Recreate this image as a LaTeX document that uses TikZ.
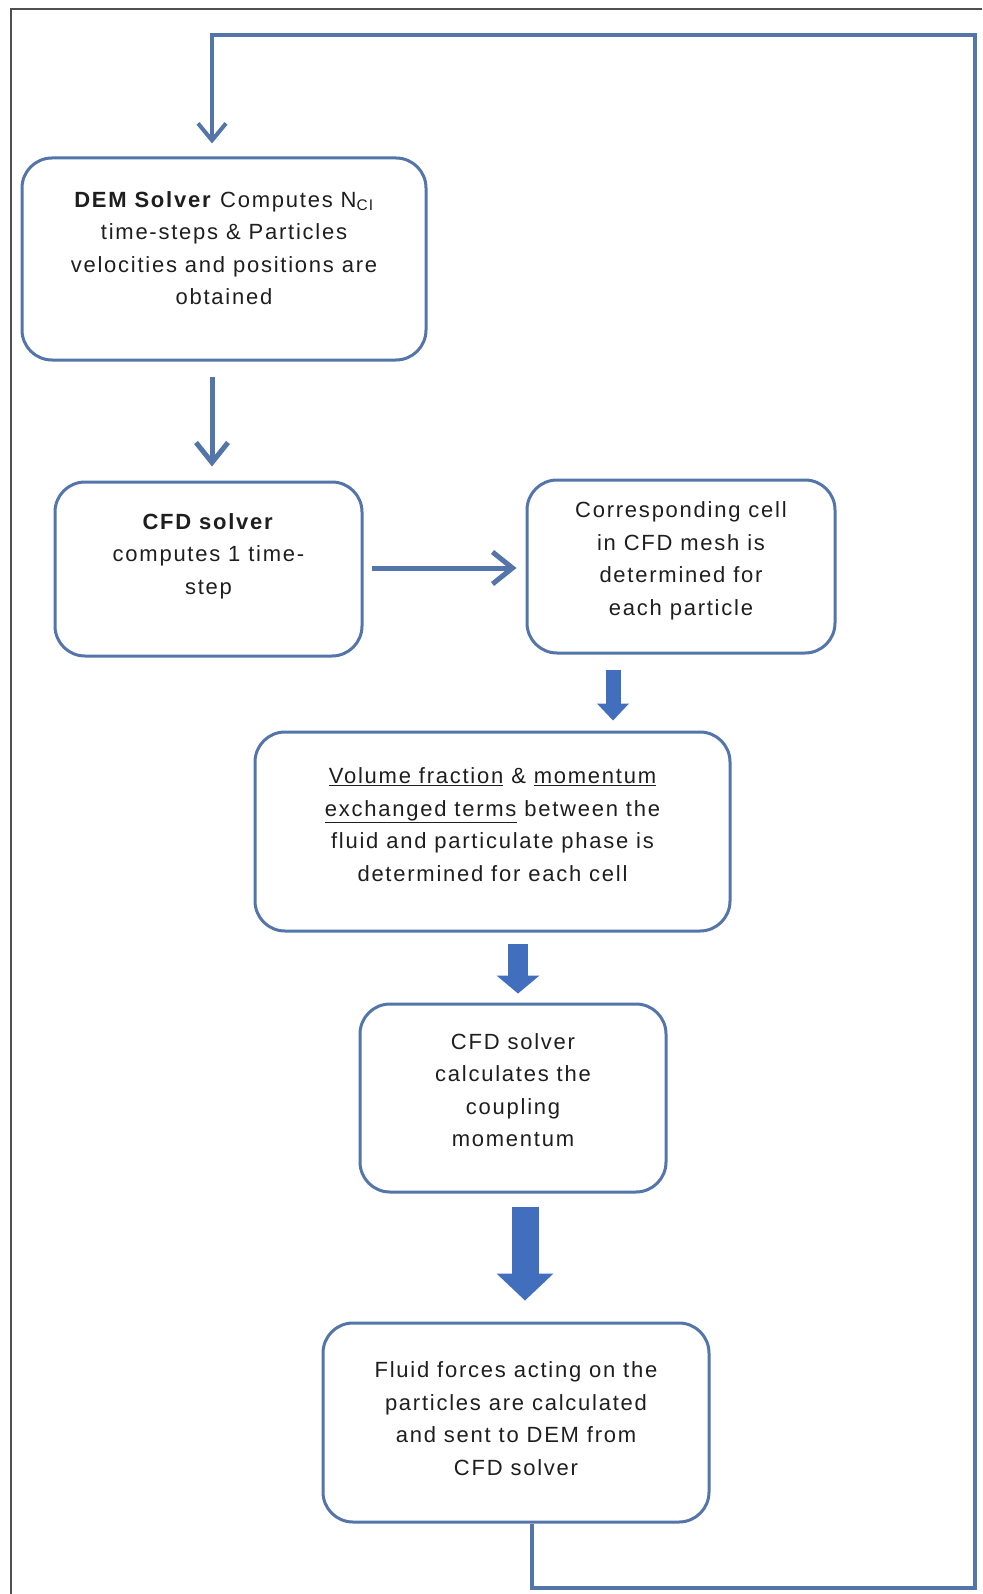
\documentclass[tikz,border=0pt]{standalone}
\usepackage{fontspec}
\setmainfont{Liberation Sans}[LetterSpace=8]
\usetikzlibrary{arrows.meta}
\definecolor{linecol}{RGB}{84,117,170}
\definecolor{blockcol}{RGB}{66,110,190}
\definecolor{framecol}{RGB}{80,80,80}
\definecolor{textcol}{RGB}{30,30,30}
\newcommand{\liftup}[1]{\\[#1]\strut}

\begin{document}
\begin{tikzpicture}[x=1pt,y=-1pt]
\tikzset{stepbox/.style={draw=linecol, line width=3pt, rounded corners=30pt, fill=white, text=textcol, align=center, inner sep=0pt, font=\fontsize{22}{32.5}\selectfont}}
\tikzset{thinarrow/.style={draw=linecol, line width=5pt, -{Straight Barb[length=20pt,width=32pt]}}}
\tikzset{loopline/.style={draw=linecol, line width=4pt, -{Straight Barb[length=17pt,width=28pt]}}}
\tikzset{blockarrow/.style n args={3}{draw=blockcol, line width=#1, -{Triangle[length=#2,width=#3,line width=0pt]}}}
\useasboundingbox (0,0) rectangle (982,1594);
\fill[white] (0,0) rectangle (982,1594);
\draw[framecol, line width=2pt] (11,1594) -- (11,9) -- (982,9);

\node[stepbox, minimum width=404pt, minimum height=202pt] (DEM) at (224,259)
  {\textbf{DEM Solver} Computes N\textsubscript{CI}\\time-steps \& Particles\\velocities and positions are\\obtained\liftup{-20pt}};
\node[stepbox, minimum width=307pt, minimum height=174pt] (CFD) at (208.5,569)
  {\textbf{CFD solver}\\computes 1 time-\\step\liftup{-12pt}};
\node[stepbox, minimum width=308pt, minimum height=173pt] (Cell) at (681,566.5)
  {Corresponding cell\\in CFD mesh is\\determined for\\each particle\liftup{-26pt}};
\node[stepbox, minimum width=475pt, minimum height=199pt] (Vol) at (492.5,831.5)
  {\underline{Volume fraction} \& \underline{momentum}\\\underline{exchanged terms} between the\\fluid and particulate phase is\\determined for each cell\liftup{-28pt}};
\node[stepbox, minimum width=306pt, minimum height=188pt] (Coup) at (513,1098)
  {CFD solver\\calculates the\\coupling\\momentum\liftup{-26pt}};
\node[stepbox, minimum width=386pt, minimum height=199pt] (Fluid) at (516,1422.5)
  {Fluid forces acting on the\\particles are calculated\\and sent to DEM from\\CFD solver\liftup{-34pt}};

\coordinate (topleft) at (212,35);
\coordinate (topright) at (975,35);
\coordinate (botright) at (975,1588);
\coordinate (botleft) at (532,1588);

\draw[thinarrow, shorten <=15pt, shorten >=14pt] (topleft |- DEM.south) -- (topleft |- CFD.north);
\draw[thinarrow, shorten <=8pt, shorten >=9pt] (CFD.east |- 0,568) -- (Cell.west |- 0,568);
\draw[blockarrow={15pt}{17pt}{32pt}, shorten <=15pt, shorten >=10pt] ([xshift=-68pt]Cell.south) -- ([xshift=-68pt]Cell.south |- Vol.north);
\draw[blockarrow={20pt}{18pt}{43pt}, shorten <=11pt, shorten >=9pt] ([xshift=25.5pt]Vol.south) -- ([xshift=25.5pt]Vol.south |- Coup.north);
\draw[blockarrow={27pt}{27pt}{57pt}, shorten <=13pt, shorten >=21pt] ([xshift=12pt]Coup.south) -- ([xshift=12pt]Coup.south |- Fluid.north);
\draw[loopline, shorten >=13pt] (botleft |- Fluid.south) -- (botleft) -- (botright) -- (topright) -- (topleft) -- (topleft |- DEM.north);
\end{tikzpicture}
\end{document}
